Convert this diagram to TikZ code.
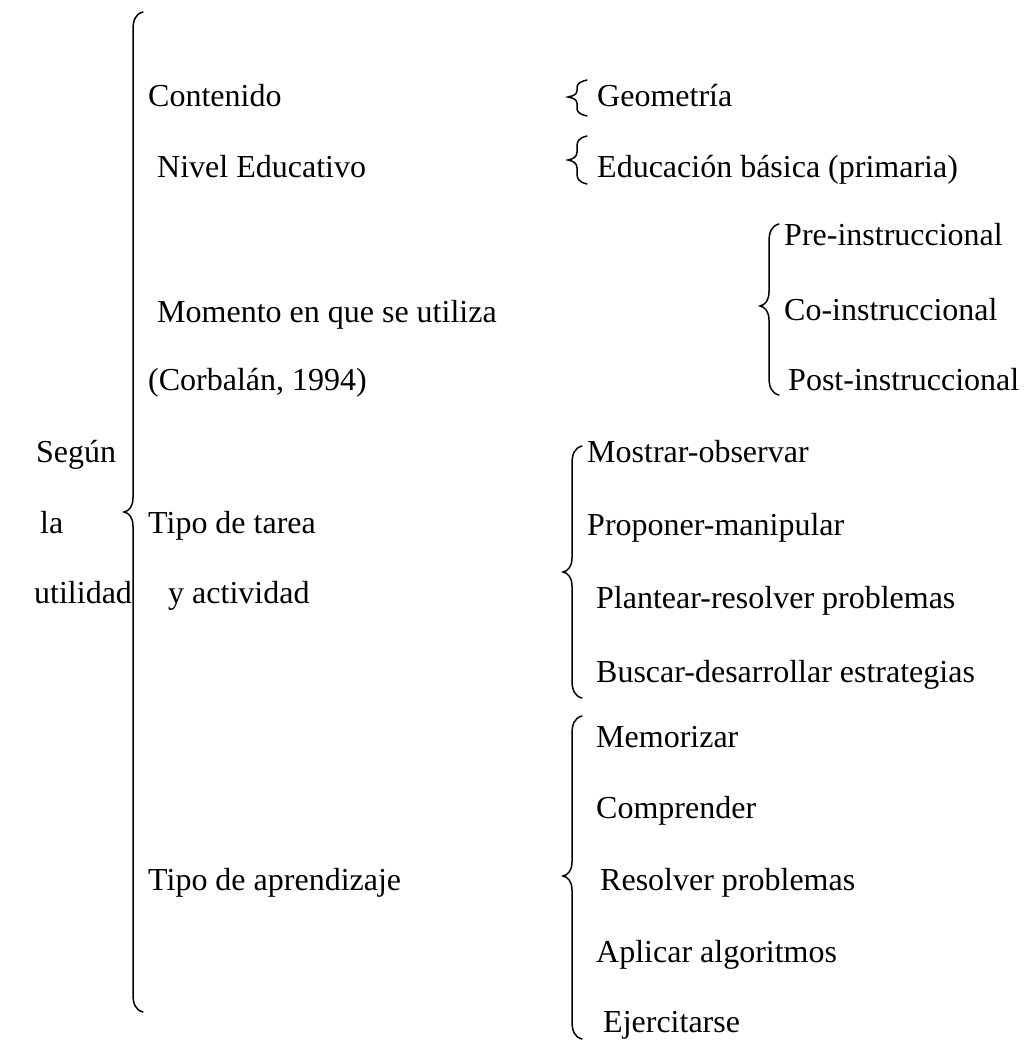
\documentclass[tikz,border=0pt]{standalone}
\usepackage{fontspec}
\setmainfont{Liberation Serif}
\usetikzlibrary{positioning}

% left curly brace: [curl length] x of the stem, top, middle, bottom
\newcommand{\leftbrc}[5][18]{%
  \draw[brc] (#2+10,#3) .. controls (#2+2,#3+2) and (#2,#3+#1/2) .. (#2,#3+#1)
    -- (#2,#4-#1*0.8) .. controls (#2,#4-#1*0.3) and (#2-4,#4-1) .. (#2-9,#4)
    .. controls (#2-4,#4+1) and (#2,#4+#1*0.3) .. (#2,#4+#1*0.8)
    -- (#2,#5-#1) .. controls (#2,#5-#1/2) and (#2+2,#5-2) .. (#2+10,#5);}

\begin{document}
\begin{tikzpicture}[x=1pt,y=-1pt,
  every node/.style={font=\fontsize{32}{37}\selectfont,anchor=base west,inner sep=0pt},
  brc/.style={line width=1.5pt,line cap=round}]
\useasboundingbox (0,0) rectangle (1023,1041);

% first level
\node (seg) at (36,462) {Según};
\node (la) at (40,533) {la};
\node (util) at (34,603) {utilidad};
\leftbrc{133}{12}{512}{1012}

% second level
\node (cont) at (148,106) {Contenido};
\node (niv) at (157,177) {Nivel Educativo};
\node (mom) at (157,322) {Momento en que se utiliza};
\node (corb) at (148,390) {(Corbalán, 1994)};
\node (tarea) at (148,533) {Tipo de tarea};
\node (activ) at (168,603) {y actividad};
\node (aprend) at (148,890) {Tipo de aprendizaje};

% third level
\leftbrc[8]{577}{80}{97}{116}
\node (geo) at (597,106) {Geometría};
\leftbrc[10]{577}{136}{160}{184}
\node (edu) at (597,177) {Educación básica (primaria)};

\leftbrc{769}{224}{306}{395}
\node (pre) at (784,245) {Pre-instruccional};
\node (co) at (784,320) {Co-instruccional};
\node (post) at (788,390) {Post-instruccional};

\leftbrc{572}{446}{572}{698}
\node (most) at (587,462) {Mostrar-observar};
\node (prop) at (587,535) {Proponer-manipular};
\node (plan) at (596,608) {Plantear-resolver problemas};
\node (busc) at (596,682) {Buscar-desarrollar estrategias};

\leftbrc{572}{716}{876}{1039}
\node (mem) at (596,747) {Memorizar};
\node (comp) at (596,818) {Comprender};
\node (res) at (600,890) {Resolver problemas};
\node (apl) at (596,962) {Aplicar algoritmos};
\node (ejer) at (603,1032) {Ejercitarse};
\end{tikzpicture}
\end{document}
